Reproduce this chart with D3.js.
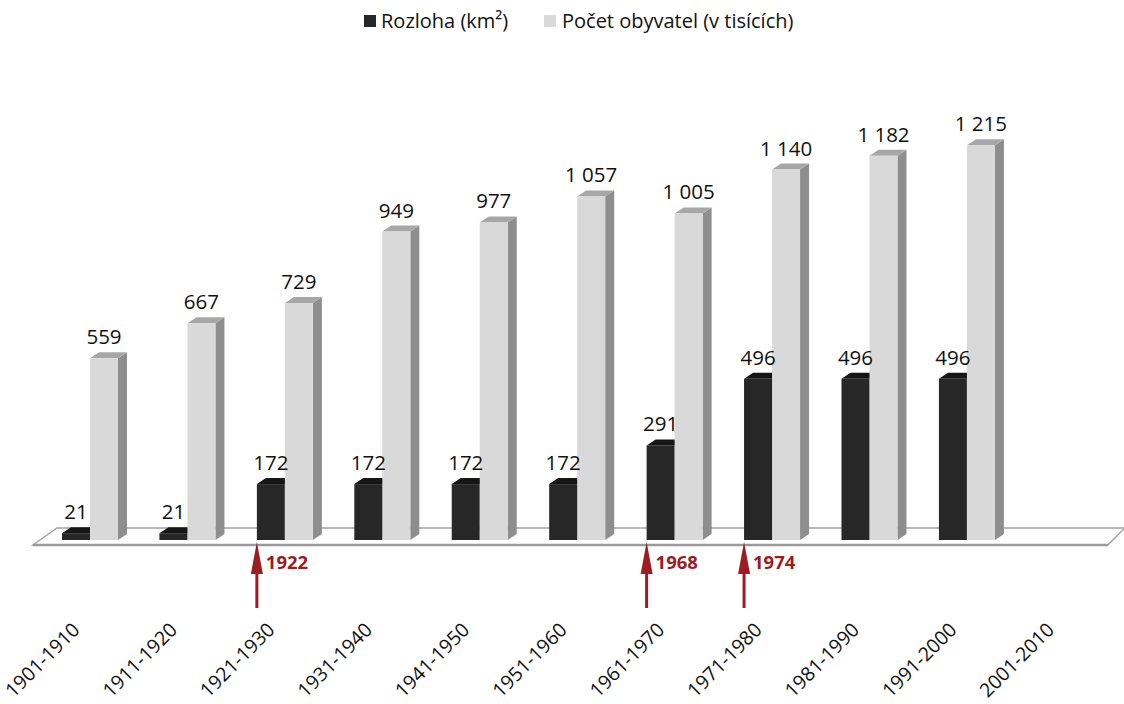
<!DOCTYPE html>
<html>
<head>
<meta charset="utf-8">
<script src="https://cdn.jsdelivr.net/npm/d3@7"></script>
<style>
  html, body { margin: 0; padding: 0; background: #fff; }
  svg { display: block; font-family: "Open Sans", "Noto Sans", sans-serif; }
</style>
</head>
<body>
<svg id="chart" width="1124" height="704"></svg>
<script>
// ---- data ----
const categories = ["1901-1910","1911-1920","1921-1930","1931-1940","1941-1950","1951-1960","1961-1970","1971-1980","1981-1990","1991-2000","2001-2010"];
const areaValues = [21, 21, 172, 172, 172, 172, 291, 496, 496, 496, null];
const populationValues = [559, 667, 729, 949, 977, 1057, 1005, 1140, 1182, 1215, null];
const seriesNames = ["Rozloha (km²)", "Počet obyvatel (v tisících)"];
const eventYears = ["1922", "1968", "1974"];
const eventCategories = ["1921-1930", "1961-1970", "1971-1980"];

// ---- layout ----
const W = 1124, H = 704;
const baseY = 540;
const depthX = 9, depthY = 6;
const barW = 28;
const barOffset = 28;

const svg = d3.select("#chart");

const x = d3.scaleBand().domain(categories).range([34, 1105.8]).paddingInner(0).paddingOuter(0);
const y = d3.scaleLinear().domain([0, 1300]).range([baseY, baseY - 1300 * 0.325]);

const fmt = d3.formatLocale({decimal: ",", thousands: " ", grouping: [3], currency: ["", " Kč"]}).format(",d");

const colors = {
  dark: {front: "#272727", top: "#161616", side: "#111111"},
  light: {front: "#d9d9d9", top: "#a7a7a7", side: "#8e8e8e"}
};

// ---- floor ----
const fx0 = x.range()[0] - 1, fx1 = x.range()[1] + 2;
const floorFront = 545, floorBack = 528;
svg.append("path")
  .attr("d", `M${fx0},${floorFront} L${fx1},${floorFront} L${fx1 + 17},${floorBack} L${fx0 + 24},${floorBack} Z`)
  .attr("fill", "#ffffff")
  .attr("stroke", "#a3a3a3")
  .attr("stroke-width", 1.5);
svg.append("line")
  .attr("x1", fx0).attr("x2", fx1)
  .attr("y1", floorFront).attr("y2", floorFront)
  .attr("stroke", "#9a9a9a").attr("stroke-width", 2.5);

// ---- bars ----
function drawBar(g, x0, v, c) {
  const top = y(v);
  const x1 = x0 + barW;
  g.append("path")
    .attr("d", `M${x1},${top} L${x1 + depthX},${top - depthY} L${x1 + depthX},${baseY - depthY} L${x1},${baseY} Z`)
    .attr("fill", c.side);
  g.append("path")
    .attr("d", `M${x0},${top} L${x0 + depthX},${top - depthY} L${x1 + depthX},${top - depthY} L${x1},${top} Z`)
    .attr("fill", c.top);
  g.append("rect")
    .attr("x", x0).attr("y", top)
    .attr("width", barW).attr("height", baseY - top)
    .attr("fill", c.front);
}

const barsG = svg.append("g");
categories.forEach((cat, i) => {
  const bx = x(cat) + barOffset;
  const a = areaValues[i], p = populationValues[i];
  if (a != null) drawBar(barsG, bx, a, colors.dark);
  if (p != null) drawBar(barsG, bx + barW, p, colors.light);
});

// ---- value labels ----
const labelsG = svg.append("g").attr("font-size", 20.5).attr("fill", "#111").attr("text-anchor", "middle");
categories.forEach((cat, i) => {
  const bx = x(cat) + barOffset;
  const a = areaValues[i], p = populationValues[i];
  if (a != null) labelsG.append("text").attr("x", bx + barW / 2).attr("y", y(a) - 14).text(fmt(a));
  if (p != null) labelsG.append("text").attr("x", bx + barW * 1.5).attr("y", y(p) - 14).text(fmt(p));
});

// ---- x axis labels (rotated -45°) ----
const c45 = Math.SQRT1_2;
const axisG = svg.append("g").attr("font-size", 19.5).attr("fill", "#111");
categories.forEach(cat => {
  const ax = x(cat) + barOffset + 19, ay = 631;
  axisG.append("g")
    .attr("transform", `matrix(${c45},${-c45},${c45},${c45},${ax},${ay})`)
    .append("text")
    .attr("x", 0).attr("y", 0)
    .attr("text-anchor", "end")
    .text(cat);
});

// ---- event arrows ----
const red = "#9c1c22";
const evG = svg.append("g");
eventYears.forEach((yr, k) => {
  const ex = x(eventCategories[k]) + barOffset;
  evG.append("rect").attr("x", ex - 1.5).attr("y", 568).attr("width", 3).attr("height", 40).attr("fill", red);
  evG.append("path").attr("d", `M${ex},542 L${ex + 6},574 L${ex - 6},574 Z`).attr("fill", red);
  evG.append("text")
    .attr("x", ex + 9).attr("y", 569)
    .attr("font-size", 18.5).attr("font-weight", "bold").attr("fill", red)
    .text(yr);
});

// ---- legend ----
const legend = svg.append("g").attr("font-size", 20).attr("fill", "#111");
const legendItems = [
  {name: seriesNames[0], color: colors.dark.front, sx: 364, tx: 381},
  {name: seriesNames[1], color: colors.light.front, sx: 544, tx: 562}
];
legendItems.forEach(d => {
  legend.append("rect").attr("x", d.sx).attr("y", 15).attr("width", 12).attr("height", 12).attr("fill", d.color);
  legend.append("text").attr("x", d.tx).attr("y", 28).text(d.name);
});
</script>
</body>
</html>
